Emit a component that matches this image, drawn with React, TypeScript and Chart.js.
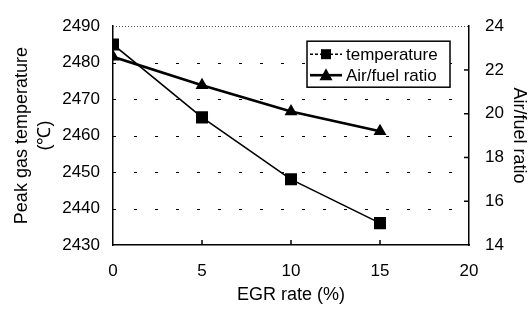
import React, { useEffect, useRef } from "react";
import { Chart, registerables } from "chart.js";

Chart.register(...registerables);

const egrRates = [0, 5, 10, 15];
const temperature = [2485, 2465, 2448, 2436];
const airFuel = [22.6, 21.3, 20.1, 19.2];
const seriesLabels = ["temperature", "Air/fuel ratio"];
const xTitle = "EGR rate (%)";
const yTitle = ["Peak gas temperature", "(\u2103)"];
const y1Title = "Air/fuel ratio";

const FONT = "'Liberation Sans', Arial, sans-serif";
const plain = (v: any) => String(v);

const overlay = {
  id: "overlay",
  beforeDatasetsDraw(chart: any) {
    const { ctx, chartArea } = chart;
    const y = chart.scales.y;
    const x = chart.scales.x;
    const y1 = chart.scales.y1;
    ctx.save();
    ctx.strokeStyle = "#000";
    ctx.lineWidth = 1.2;
    ctx.setLineDash([3, 18]);
    y.ticks.forEach((t: any) => {
      if (t.value === y.min || t.value === y.max) return;
      const py = Math.round(y.getPixelForValue(t.value)) + 0.5;
      ctx.beginPath();
      ctx.moveTo(chartArea.left, py);
      ctx.lineTo(chartArea.right, py);
      ctx.stroke();
    });
    ctx.lineWidth = 1;
    ctx.strokeStyle = "#555";
    ctx.setLineDash([1, 2]);
    const top = Math.round(y.getPixelForValue(y.max)) + 0.5;
    ctx.beginPath();
    ctx.moveTo(chartArea.left, top);
    ctx.lineTo(chartArea.right, top);
    ctx.stroke();
    ctx.setLineDash([]);
    ctx.strokeStyle = "#000";
    ctx.lineWidth = 1.5;
    x.ticks.forEach((t: any) => {
      if (t.value === x.min || t.value === x.max) return;
      const px = x.getPixelForValue(t.value);
      ctx.beginPath();
      ctx.moveTo(px, chartArea.bottom);
      ctx.lineTo(px, chartArea.bottom - 5);
      ctx.stroke();
    });
    y1.ticks.forEach((t: any) => {
      if (t.value === y1.min || t.value === y1.max) return;
      const py = y1.getPixelForValue(t.value);
      ctx.beginPath();
      ctx.moveTo(chartArea.right, py);
      ctx.lineTo(chartArea.right - 5, py);
      ctx.stroke();
    });
    ctx.restore();
  },
  afterDraw(chart: any) {
    const { ctx, chartArea } = chart;
    ctx.save();
    const bx = chartArea.right - 162;
    const by = chartArea.top + 15;
    const bw = 143;
    const bh = 46;
    ctx.fillStyle = "#fff";
    ctx.fillRect(bx, by, bw, bh);
    ctx.strokeStyle = "#000";
    ctx.lineWidth = 1.5;
    ctx.strokeRect(bx, by, bw, bh);
    const rows = [by + 13, by + 34];
    chart.data.datasets.forEach((ds: any, i: number) => {
      const ry = rows[i];
      ctx.strokeStyle = "#000";
      ctx.lineWidth = ds.borderWidth;
      if (i === 0) ctx.setLineDash([3, 2]);
      ctx.beginPath();
      ctx.moveTo(bx + 3, ry);
      ctx.lineTo(bx + 35, ry);
      ctx.stroke();
      ctx.setLineDash([]);
      ctx.fillStyle = "#000";
      const cx = bx + 19;
      if (ds.pointStyle === "rect") {
        ctx.fillRect(cx - 5, ry - 5, 10, 10);
      } else {
        ctx.beginPath();
        ctx.moveTo(cx, ry - 7);
        ctx.lineTo(cx + 6.5, ry + 5);
        ctx.lineTo(cx - 6.5, ry + 5);
        ctx.closePath();
        ctx.fill();
      }
      ctx.font = `17px ${FONT}`;
      ctx.textBaseline = "middle";
      ctx.textAlign = "left";
      ctx.fillText(ds.label, bx + 39, ry + 1);
    });
    ctx.restore();
  },
};

export default function App() {
  const ref = useRef<HTMLCanvasElement | null>(null);
  useEffect(() => {
    if (!ref.current) return;
    const chart = new Chart(ref.current, {
      type: "line",
      data: {
        datasets: [
          {
            label: seriesLabels[0],
            data: egrRates.map((x, i) => ({ x, y: temperature[i] })),
            yAxisID: "y",
            borderColor: "#000",
            backgroundColor: "#000",
            borderWidth: 1.6,
            pointStyle: "rect",
            pointRadius: 8.5,
            pointBorderWidth: 0,
          },
          {
            label: seriesLabels[1],
            data: egrRates.map((x, i) => ({ x, y: airFuel[i] })),
            yAxisID: "y1",
            borderColor: "#000",
            backgroundColor: "#000",
            borderWidth: 2.6,
            pointStyle: "triangle",
            pointRadius: 7.5,
            pointBorderWidth: 0,
          },
        ],
      },
      options: {
        responsive: false,
        animation: false,
        layout: { padding: { top: 14, left: 0, right: 0, bottom: 0 } },
        plugins: { legend: { display: false }, tooltip: { enabled: false } },
        scales: {
          x: {
            type: "linear",
            min: 0,
            max: 20,
            ticks: { stepSize: 5, color: "#000", font: { family: FONT, size: 17 }, padding: 16, callback: plain },
            grid: { display: false, drawTicks: false },
            border: { display: true, color: "#000", width: 1.5 },
            title: { display: true, text: xTitle, color: "#000", font: { family: FONT, size: 18 }, padding: { top: 0, bottom: 5 } },
            afterFit: (s: any) => { s.height = 66; },
          },
          y: {
            position: "left",
            min: 2430,
            max: 2490,
            ticks: { stepSize: 10, color: "#000", font: { family: FONT, size: 17 }, padding: 13, callback: plain },
            grid: { display: false, drawTicks: false },
            border: { display: true, color: "#000", width: 1.5 },
            title: { display: true, text: yTitle, color: "#000", font: { family: FONT, size: 18, lineHeight: 1.3 }, padding: { top: 10, bottom: 0 } },
            afterFit: (s: any) => { s.width = 113; },
          },
          y1: {
            position: "right",
            min: 14,
            max: 24,
            ticks: { stepSize: 2, color: "#000", font: { family: FONT, size: 17 }, padding: 16, callback: plain },
            grid: { display: false, drawTicks: false },
            border: { display: true, color: "#000", width: 1.5 },
            title: { display: true, text: y1Title, color: "#000", font: { family: FONT, size: 18 }, padding: { top: 0, bottom: 0 } },
            afterFit: (s: any) => { s.width = 61; },
          },
        },
      },
      plugins: [overlay],
    } as any);
    return () => chart.destroy();
  }, []);
  return (
    <div style={{ position: "absolute", left: 0, top: 0, width: 530, height: 311, background: "#fff" }}>
      <canvas ref={ref} width={530} height={311} />
    </div>
  );
}
